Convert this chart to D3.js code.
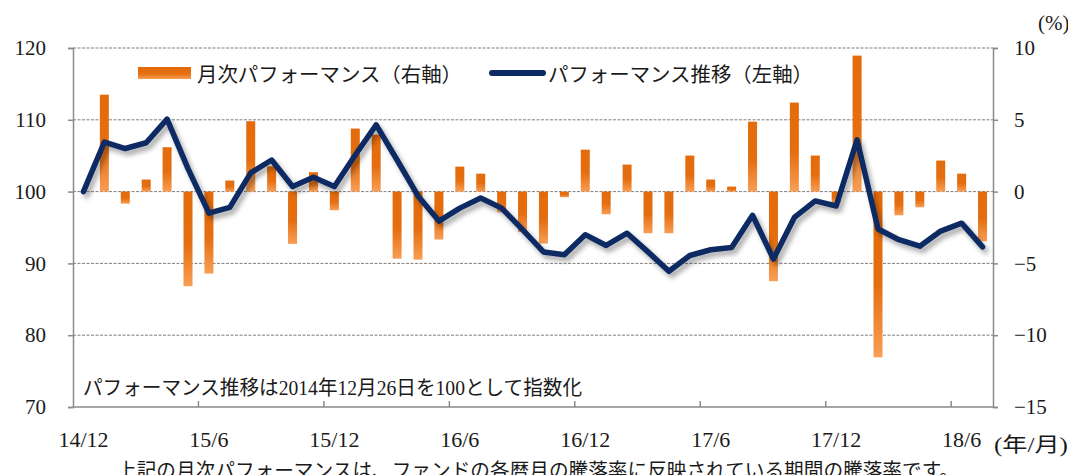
<!DOCTYPE html>
<meta charset="utf-8">
<script src="https://d3js.org/d3.v7.min.js"></script>
<style>
  body { margin: 0; background: #fff; }
  svg text { fill: #1a1a1a; }
</style>
<div id="chart"></div>
<script>
// months from 14/12 to 18/7
var months = ["14/12","15/1","15/2","15/3","15/4","15/5","15/6","15/7","15/8","15/9","15/10","15/11",
  "15/12","16/1","16/2","16/3","16/4","16/5","16/6","16/7","16/8","16/9","16/10","16/11",
  "16/12","17/1","17/2","17/3","17/4","17/5","17/6","17/7","17/8","17/9","17/10","17/11",
  "17/12","18/1","18/2","18/3","18/4","18/5","18/6","18/7"];

// performance index (left axis), 2014/12/26 = 100
var indexValues = [100, 106.9, 106.0, 106.8, 110.1, 103.2, 97.0, 97.8, 102.6, 104.4, 100.7, 102.0,
  100.7, 105.1, 109.3, 104.4, 99.4, 95.9, 97.7, 99.1, 97.7, 94.7, 91.6, 91.2,
  94.0, 92.5, 94.2, 91.6, 88.9, 91.1, 91.9, 92.2, 96.7, 90.6, 96.4, 98.7,
  98.0, 107.2, 94.8, 93.3, 92.4, 94.5, 95.6, 92.3];

// monthly performance % (right axis), no bar for the first month
var monthlyPct = [null, 6.75, -0.84, 0.84, 3.09, -6.59, -5.71, 0.77, 4.9, 1.76, -3.64, 1.35,
  -1.3, 4.39, 3.97, -4.67, -4.74, -3.34, 1.74, 1.25, -1.44, -2.81, -3.62, -0.39,
  2.92, -1.58, 1.88, -2.9, -2.9, 2.51, 0.84, 0.35, 4.87, -6.24, 6.2, 2.51,
  -0.79, 9.47, -11.54, -1.65, -1.09, 2.16, 1.25, -3.46];

var leftTicks = [70, 80, 90, 100, 110, 120];
var rightTicks = [-15, -10, -5, 0, 5, 10];
var labelMonths = ["14/12","15/6","15/12","16/6","16/12","17/6","17/12","18/6"];

var W = 1068, H = 475;
var plotL = 73, plotR = 993, plotT = 48, plotB = 407;
var numFont = "'Liberation Serif', 'Noto Sans CJK JP', serif";
var jpFont = "'Noto Sans CJK JP', sans-serif";

var svg = d3.select("#chart").append("svg")
  .attr("width", W).attr("height", H);

var defs = svg.append("defs");
var grad = defs.append("linearGradient").attr("id", "barGrad")
  .attr("x1", 0).attr("y1", 0).attr("x2", 0).attr("y2", 1);
grad.append("stop").attr("offset", "0%").attr("stop-color", "#E36B0B");
grad.append("stop").attr("offset", "55%").attr("stop-color", "#E46E10");
grad.append("stop").attr("offset", "100%").attr("stop-color", "#F89E55");

var shadow = defs.append("filter").attr("id", "shadow")
  .attr("x", "-5%").attr("y", "-20%").attr("width", "110%").attr("height", "140%");
shadow.append("feDropShadow").attr("dx", 3).attr("dy", 4)
  .attr("stdDeviation", 2.5).attr("flood-color", "#000").attr("flood-opacity", 0.35);

// scales
var x = d3.scaleBand().domain(months).range([plotL, plotR]).padding(0);
var yL = d3.scaleLinear().domain([70, 120]).range([plotB, plotT]);
var yR = d3.scaleLinear().domain([-15, 10]).range([plotB, plotT]);
var bw = x.bandwidth();

// grid lines
svg.append("g").selectAll("line")
  .data(leftTicks.filter(d => d > 70))
  .enter().append("line")
    .attr("x1", plotL).attr("x2", plotR)
    .attr("y1", d => yL(d)).attr("y2", d => yL(d))
    .attr("stroke", "#7f7f7f").attr("stroke-width", 1)
    .attr("stroke-dasharray", "3,1.5");

// left axis
var axL = svg.append("g")
  .attr("transform", "translate(" + plotL + ",0)")
  .call(d3.axisLeft(yL).tickValues(leftTicks).tickSize(5).tickPadding(22));
axL.selectAll("text").attr("font-family", numFont).attr("font-size", 21);

// right axis
var axR = svg.append("g")
  .attr("transform", "translate(" + plotR + ",0)")
  .call(d3.axisRight(yR).tickValues(rightTicks).tickSize(5).tickPadding(16)
    .tickFormat(d => d < 0 ? "\u2212" + Math.abs(d) : d));
axR.selectAll("text").attr("font-family", numFont).attr("font-size", 21);

// bottom axis (labels only, ticks drawn at category boundaries)
var axB = svg.append("g")
  .attr("transform", "translate(0," + plotB + ")")
  .call(d3.axisBottom(x).tickValues(labelMonths).tickSize(0).tickPadding(24));
axB.selectAll("text").attr("font-family", numFont).attr("font-size", 22);
axB.select(".domain").remove();

svg.append("g").selectAll("line")
  .data(months.filter((d, i) => i % 6 === 0 && i > 0))
  .enter().append("line")
    .attr("x1", d => x(d)).attr("x2", d => x(d))
    .attr("y1", plotB).attr("y2", plotB - 6)
    .attr("stroke", "#8a8a8a").attr("stroke-width", 1.5);

[axL, axR].forEach(function(a) {
  a.selectAll(".domain, .tick line").attr("stroke", "#8a8a8a").attr("stroke-width", 1.5);
});
svg.append("line")
  .attr("x1", plotL).attr("x2", plotR).attr("y1", plotB).attr("y2", plotB)
  .attr("stroke", "#8a8a8a").attr("stroke-width", 1.5);

// bars
var barW = 9;
svg.append("g").selectAll("rect")
  .data(months.map((m, i) => ({m: m, v: monthlyPct[i]})).filter(d => d.v !== null))
  .enter().append("rect")
    .attr("x", d => x(d.m) + bw / 2 - barW / 2)
    .attr("width", barW)
    .attr("y", d => yR(Math.max(0, d.v)))
    .attr("height", d => Math.abs(yR(d.v) - yR(0)))
    .attr("fill", "url(#barGrad)");

// index line
var line = d3.line()
  .x((d, i) => x(months[i]) + bw / 2)
  .y(d => yL(d));
svg.append("path")
  .datum(indexValues)
  .attr("d", line)
  .attr("fill", "none")
  .attr("stroke", "#0C2A62")
  .attr("stroke-width", 5.5)
  .attr("stroke-linejoin", "round")
  .attr("stroke-linecap", "round")
  .attr("filter", "url(#shadow)");

// legend
svg.append("rect").attr("x", 138).attr("y", 67).attr("width", 53).attr("height", 12)
  .attr("fill", "url(#barGrad)");
svg.append("text").attr("x", 197).attr("y", 73).attr("dominant-baseline", "central")
  .attr("font-family", jpFont).attr("font-size", 20)
  .attr("textLength", 265).attr("lengthAdjust", "spacingAndGlyphs")
  .text("月次パフォーマンス（右軸）");
svg.append("line").attr("x1", 492).attr("x2", 543).attr("y1", 73).attr("y2", 73)
  .attr("stroke", "#0C2A62").attr("stroke-width", 6).attr("stroke-linecap", "round");
svg.append("text").attr("x", 548).attr("y", 73).attr("dominant-baseline", "central")
  .attr("font-family", jpFont).attr("font-size", 20)
  .attr("textLength", 265).attr("lengthAdjust", "spacingAndGlyphs")
  .text("パフォーマンス推移（左軸）");

// notes
svg.append("text").attr("x", 83).attr("y", 388).attr("dominant-baseline", "central")
  .attr("font-family", numFont).attr("font-size", 20)
  .attr("textLength", 499).attr("lengthAdjust", "spacingAndGlyphs")
  .text("パフォーマンス推移は2014年12月26日を100として指数化");

svg.append("text").attr("x", 1038).attr("y", 30)
  .attr("font-family", numFont).attr("font-size", 21).text("(%)");
svg.append("text").attr("x", 994).attr("y", 452)
  .attr("font-family", numFont).attr("font-size", 20)
  .attr("textLength", 74).attr("lengthAdjust", "spacingAndGlyphs")
  .text("(年/月)");

svg.append("text").attr("x", 117).attr("y", 478)
  .attr("font-family", jpFont).attr("font-size", 20)
  .attr("textLength", 842).attr("lengthAdjust", "spacingAndGlyphs")
  .text("上記の月次パフォーマンスは、ファンドの各暦月の騰落率に反映されている期間の騰落率です。");
</script>
